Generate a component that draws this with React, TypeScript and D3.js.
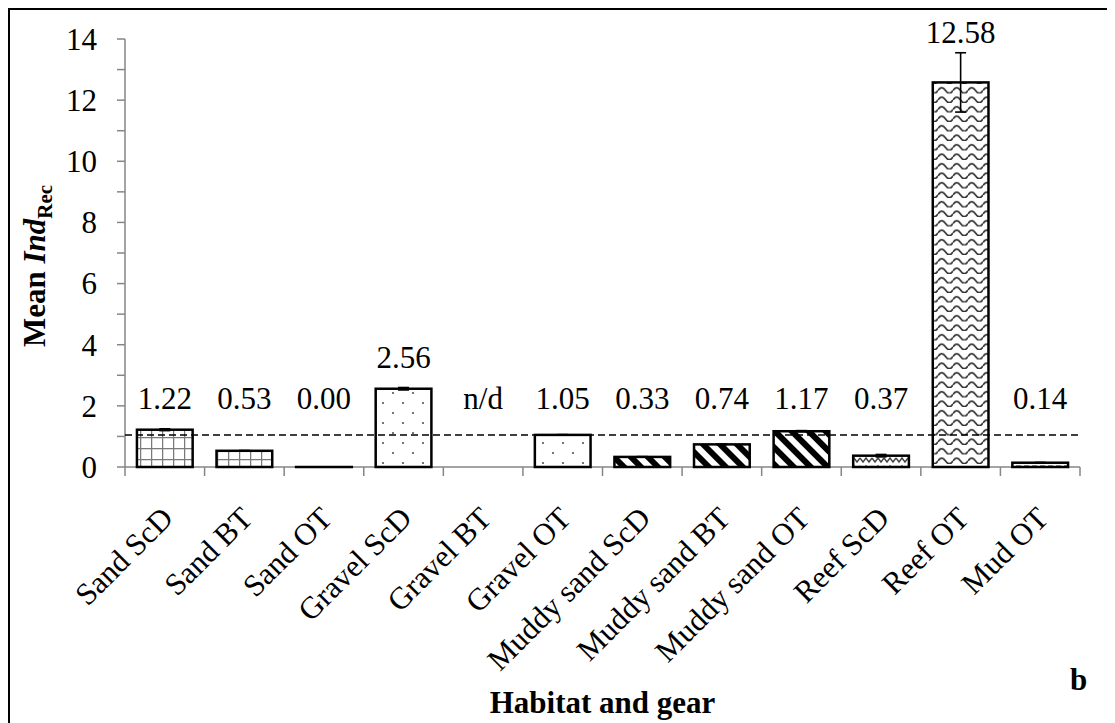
import React, { useEffect, useRef } from 'react';
import * as d3 from 'd3';

const categories = [
  'Sand ScD', 'Sand BT', 'Sand OT',
  'Gravel ScD', 'Gravel BT', 'Gravel OT',
  'Muddy sand ScD', 'Muddy sand BT', 'Muddy sand OT',
  'Reef ScD', 'Reef OT', 'Mud OT',
];
const means: (number | null)[] = [1.22, 0.53, 0.0, 2.56, null, 1.05, 0.33, 0.74, 1.17, 0.37, 12.58, 0.14];
const errors: (number | null)[] = [0.03, 0.01, 0, 0.04, null, 0.01, 0.01, 0.01, 0.02, 0.04, 0.97, 0.01];
const yTicks = [0, 2, 4, 6, 8, 10, 12, 14];
const overallMean = 1.05;

const font = '"Liberation Serif", "Times New Roman", serif';

// fill pattern per habitat / gear
const patternFor = (cat: string) => {
  if (cat.startsWith('Sand')) return 'p-grid';
  if (cat.startsWith('Gravel')) return 'p-dots';
  if (cat.startsWith('Muddy')) return 'p-stripes';
  if (cat === 'Reef ScD') return 'p-zigzag';
  if (cat === 'Reef OT') return 'p-wave';
  return 'p-dash';
};

const App = () => {
  const ref = useRef<SVGSVGElement>(null);

  useEffect(() => {
    document.documentElement.style.overflow = 'hidden';
    const svg = d3.select(ref.current);
    svg.selectAll('*').remove();

    const x = d3.scaleBand().domain(categories).range([117, 1072]).paddingInner(0.3).paddingOuter(0.15);
    const xb = d3.scaleBand().domain(categories).range([117, 1072]);
    const y = d3.scaleLinear().domain([0, 14]).range([459, 31]);

    const defs = svg.append('defs');
    const pat = (id: string, w: number, h: number) => {
      const p = defs.append('pattern').attr('id', id).attr('patternUnits', 'userSpaceOnUse')
        .attr('width', w).attr('height', h);
      p.append('rect').attr('width', w).attr('height', h).attr('fill', 'white');
      return p;
    };
    pat('p-grid', 11, 11).append('path').attr('d', 'M0 0.5H11M0.5 0V11')
      .attr('stroke', '#7a7a7a').attr('stroke-width', 1.5).attr('fill', 'none');
    const dots = pat('p-dots', 20, 20);
    dots.append('circle').attr('cx', 5).attr('cy', 5).attr('r', 1.1).attr('fill', '#555');
    dots.append('circle').attr('cx', 15).attr('cy', 15).attr('r', 1.1).attr('fill', '#555');
    pat('p-stripes', 12, 12).attr('patternTransform', 'rotate(-45)')
      .append('rect').attr('width', 6).attr('height', 12).attr('fill', 'black');
    pat('p-zigzag', 12, 8).append('path').attr('d', 'M0 2L3 6L6 2L9 6L12 2')
      .attr('stroke', '#444').attr('stroke-width', 1.4).attr('fill', 'none');
    pat('p-wave', 15, 9.5).append('path').attr('d', 'M0 6.5Q3.75 1 7.5 6.5T15 6.5')
      .attr('stroke', '#333').attr('stroke-width', 1.7).attr('fill', 'none');
    pat('p-dash', 8, 4).append('path').attr('d', 'M0 2H5')
      .attr('stroke', '#777').attr('stroke-width', 1.5);

    // outer frame
    svg.append('rect').attr('x', 1).attr('y', 1).attr('width', 1300).attr('height', 900)
      .attr('fill', 'white').attr('stroke', 'black').attr('stroke-width', 2);

    // y axis
    const yAxis = svg.append('g').attr('stroke', '#868686').attr('stroke-width', 1.5);
    yAxis.append('line').attr('x1', 117).attr('x2', 117).attr('y1', y(14)).attr('y2', y(0));
    yAxis.selectAll('.yt').data(d3.range(0, 15)).enter().append('line')
      .attr('x1', 109).attr('x2', 117).attr('y1', (d) => y(d)).attr('y2', (d) => y(d));
    svg.selectAll('.ylab').data(yTicks).enter().append('text')
      .attr('x', 89).attr('y', (d) => y(d)).attr('dy', '0.35em')
      .attr('text-anchor', 'end').attr('font-family', font).attr('font-size', 31)
      .text((d) => d);

    // x axis
    const xAxis = svg.append('g').attr('stroke', '#868686').attr('stroke-width', 1.5);
    xAxis.append('line').attr('x1', 117).attr('x2', 1072).attr('y1', y(0)).attr('y2', y(0));
    const bounds = categories.map((c) => xb(c) as number).concat([1072]);
    xAxis.selectAll('.xt').data(bounds).enter().append('line')
      .attr('x1', (d) => d).attr('x2', (d) => d).attr('y1', y(0)).attr('y2', y(0) + 9);

    const data = categories.map((c, i) => ({ c, v: means[i], e: errors[i] }));

    // bars
    svg.selectAll('.bar').data(data.filter((d) => d.v !== null)).enter().append('rect')
      .attr('x', (d) => x(d.c) as number)
      .attr('y', (d) => y(d.v as number))
      .attr('width', x.bandwidth())
      .attr('height', (d) => Math.max(0.01, y(0) - y(d.v as number)))
      .attr('fill', (d) => `url(#${patternFor(d.c)})`)
      .attr('stroke', 'black').attr('stroke-width', 2.5);

    // reference line
    svg.append('line').attr('x1', 117).attr('x2', 1072)
      .attr('y1', y(overallMean)).attr('y2', y(overallMean))
      .attr('stroke', 'black').attr('stroke-width', 1.5).attr('stroke-dasharray', '7,4');

    // error bars
    const eb = svg.selectAll('.err').data(data.filter((d) => d.v !== null && (d.e as number) > 0)).enter()
      .append('g').attr('stroke', 'black').attr('stroke-width', 1.6);
    const cx = (c: string) => (x(c) as number) + x.bandwidth() / 2;
    eb.append('line').attr('x1', (d) => cx(d.c)).attr('x2', (d) => cx(d.c))
      .attr('y1', (d) => y((d.v as number) - (d.e as number))).attr('y2', (d) => y((d.v as number) + (d.e as number)));
    eb.append('line').attr('x1', (d) => cx(d.c) - 5.5).attr('x2', (d) => cx(d.c) + 5.5)
      .attr('y1', (d) => y((d.v as number) + (d.e as number))).attr('y2', (d) => y((d.v as number) + (d.e as number)));
    eb.append('line').attr('x1', (d) => cx(d.c) - 5.5).attr('x2', (d) => cx(d.c) + 5.5)
      .attr('y1', (d) => y((d.v as number) - (d.e as number))).attr('y2', (d) => y((d.v as number) - (d.e as number)));

    // value labels
    svg.selectAll('.vlab').data(data).enter().append('text')
      .attr('x', (d) => cx(d.c))
      .attr('y', (d) => {
        const v = d.v ?? 0;
        const e = d.e ?? 0;
        return Math.min(y(v + e) - 10, y(v) - 21, y(1.9));
      })
      .attr('text-anchor', 'middle').attr('font-family', font).attr('font-size', 31)
      .text((d) => (d.v === null ? 'n/d' : d.v.toFixed(2)));

    // category labels
    svg.selectAll('.clab').data(categories).enter().append('text')
      .attr('transform', (c) => `translate(${cx(c) + 10},${512}) rotate(-45)`)
      .attr('text-anchor', 'end').attr('font-family', font).attr('font-size', 31)
      .text((c) => c);

    // axis titles
    svg.append('text').attr('x', (117 + 1072) / 2).attr('y', 705)
      .attr('text-anchor', 'middle').attr('font-family', font).attr('font-size', 31)
      .attr('font-weight', 'bold').text('Habitat and gear');

    const yt = svg.append('text').attr('transform', 'translate(37,258) rotate(-90)')
      .attr('text-anchor', 'middle').attr('font-family', font).attr('font-size', 31)
      .attr('font-weight', 'bold');
    yt.append('tspan').text('Mean ');
    yt.append('tspan').attr('font-style', 'italic').text('Ind');
    yt.append('tspan').attr('font-size', 21).attr('dy', 7).text('Rec');

    svg.append('text').attr('x', 1062).attr('y', 682).attr('font-family', font)
      .attr('font-size', 31).attr('font-weight', 'bold').text('b');
  }, []);

  return <svg ref={ref} width={1107} height={715} style={{ display: 'block' }} />;
};

export default App;
